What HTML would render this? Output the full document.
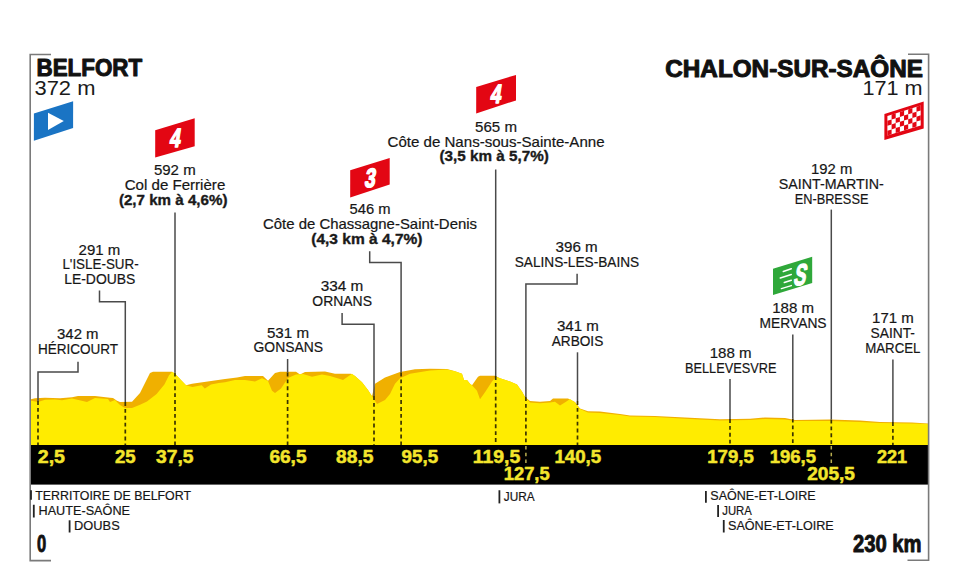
<!DOCTYPE html>
<html><head><meta charset="utf-8"><style>
html,body{margin:0;padding:0;background:#fff;}
svg{display:block;}
text{font-family:'Liberation Sans', sans-serif;}
</style></head><body>
<svg width="960" height="579" viewBox="0 0 960 579">
<rect width="960" height="579" fill="#fff"/>
<polygon points="31.0,399.3 35.0,398.2 45.0,397.7 60.0,398.2 72.0,397.2 78.0,396.1 95.0,396.1 110.0,397.7 113.0,398.0 117.0,400.8 120.0,401.9 132.0,401.7 140.0,393.0 150.0,372.9 153.0,371.8 172.0,371.8 175.0,373.7 186.0,385.3 192.0,383.8 225.0,379.0 237.0,377.5 245.0,376.0 263.0,376.0 268.0,380.7 275.0,372.9 280.0,371.8 296.0,371.8 300.0,374.4 305.0,372.0 325.0,371.5 335.0,373.7 351.0,373.7 355.0,376.0 362.0,382.2 368.0,390.0 372.0,396.2 375.0,383.8 385.0,377.5 400.0,372.1 415.0,369.3 430.0,368.7 447.0,369.0 455.0,371.3 462.0,373.7 464.0,379.9 467.0,380.0 470.0,383.8 472.0,385.3 478.0,376.8 480.0,375.7 495.0,375.7 500.0,378.3 510.0,381.4 517.0,384.5 522.0,391.5 525.0,397.0 530.0,400.9 540.0,401.7 550.0,400.9 553.0,398.5 568.0,398.5 575.0,401.9 580.0,408.4 588.0,411.3 600.0,411.6 620.0,414.0 630.0,415.4 655.0,416.0 690.0,417.8 720.0,419.2 750.0,418.8 765.0,417.5 785.0,418.1 795.0,419.9 830.0,419.5 860.0,420.5 880.0,421.9 912.0,422.5 928.0,423.5 928.0,445.0 31.0,445.0" fill="#f0b000"/><polygon points="31.0,400.8 38.0,401.9 45.0,399.8 55.0,399.5 62.0,400.3 72.0,398.5 87.0,401.9 95.0,398.0 108.0,399.0 110.0,401.9 115.0,400.0 120.0,405.0 125.0,408.0 132.0,408.0 140.0,404.7 147.0,401.6 156.6,393.9 164.4,384.5 169.0,375.2 172.2,371.8 175.0,373.7 186.0,385.3 192.4,386.9 201.7,385.3 204.8,388.4 211.0,384.5 218.8,383.0 225.0,382.2 235.0,380.0 245.0,379.9 255.0,381.4 262.0,378.3 268.0,381.0 272.0,390.8 275.0,393.0 281.0,388.4 288.0,378.0 296.0,374.4 303.0,374.0 312.0,376.8 322.0,374.4 330.0,376.0 340.0,379.0 343.0,380.0 352.0,373.7 355.0,376.0 362.0,382.2 368.0,390.0 372.0,396.2 377.0,404.0 385.0,400.0 390.0,393.9 395.0,383.8 400.0,378.3 410.0,373.7 430.0,370.5 447.0,369.5 455.0,371.3 462.0,373.7 464.0,379.9 467.0,380.0 470.0,383.8 472.0,385.3 477.0,390.8 480.0,399.3 485.0,392.3 492.0,381.4 496.0,376.8 500.0,378.3 510.0,381.4 517.0,384.5 522.0,391.5 525.0,397.0 530.0,402.5 540.0,403.2 550.0,402.5 555.0,401.7 560.0,405.5 566.0,401.7 570.0,399.0 575.0,402.5 580.0,409.0 588.0,412.5 600.0,413.0 620.0,415.0 630.0,416.5 655.0,417.0 690.0,419.0 720.0,420.5 750.0,420.0 765.0,419.0 785.0,419.5 795.0,421.0 830.0,421.0 860.0,422.0 880.0,423.0 912.0,423.5 928.0,424.0 928.0,445.0 31.0,445.0" fill="#ffec00"/><line x1="38" y1="401" x2="38" y2="445" stroke="#3b3300" stroke-width="1.7" stroke-dasharray="3.9 3"/><line x1="125.3" y1="402" x2="125.3" y2="445" stroke="#3b3300" stroke-width="1.7" stroke-dasharray="3.9 3"/><line x1="175" y1="372.5" x2="175" y2="445" stroke="#3b3300" stroke-width="1.7" stroke-dasharray="3.9 3"/><line x1="287.6" y1="372.5" x2="287.6" y2="445" stroke="#3b3300" stroke-width="1.7" stroke-dasharray="3.9 3"/><line x1="374" y1="396" x2="374" y2="445" stroke="#3b3300" stroke-width="1.7" stroke-dasharray="3.9 3"/><line x1="401.1" y1="372.5" x2="401.1" y2="445" stroke="#3b3300" stroke-width="1.7" stroke-dasharray="3.9 3"/><line x1="495.7" y1="376" x2="495.7" y2="445" stroke="#3b3300" stroke-width="1.7" stroke-dasharray="3.9 3"/><line x1="525.9" y1="397" x2="525.9" y2="445" stroke="#3b3300" stroke-width="1.7" stroke-dasharray="3.9 3"/><line x1="577.5" y1="401" x2="577.5" y2="445" stroke="#3b3300" stroke-width="1.7" stroke-dasharray="3.9 3"/><line x1="730" y1="419" x2="730" y2="445" stroke="#3b3300" stroke-width="1.7" stroke-dasharray="3.9 3"/><line x1="792.8" y1="418.5" x2="792.8" y2="445" stroke="#3b3300" stroke-width="1.7" stroke-dasharray="3.9 3"/><line x1="831.3" y1="419.5" x2="831.3" y2="445" stroke="#3b3300" stroke-width="1.7" stroke-dasharray="3.9 3"/><line x1="892.9" y1="422" x2="892.9" y2="445" stroke="#3b3300" stroke-width="1.7" stroke-dasharray="3.9 3"/><path d="M78,361.7 L78,372 L38,372 L38,401" fill="none" stroke="#4a4a4a" stroke-width="1.5"/><path d="M99.5,290.6 L99.5,301.8 L125.3,301.8 L125.3,402" fill="none" stroke="#4a4a4a" stroke-width="1.5"/><path d="M175,212.4 L175,372.5" fill="none" stroke="#4a4a4a" stroke-width="1.5"/><path d="M287.6,359 L287.6,372.5" fill="none" stroke="#4a4a4a" stroke-width="1.5"/><path d="M342.1,312.9 L342.1,324.2 L374,324.2 L374,396" fill="none" stroke="#4a4a4a" stroke-width="1.5"/><path d="M369.7,251.2 L369.7,262.4 L401.1,262.4 L401.1,372.5" fill="none" stroke="#4a4a4a" stroke-width="1.5"/><path d="M495.7,169.5 L495.7,376" fill="none" stroke="#4a4a4a" stroke-width="1.5"/><path d="M577.1,273.8 L577.1,283.9 L525.9,283.9 L525.9,397" fill="none" stroke="#4a4a4a" stroke-width="1.5"/><path d="M577.5,352.3 L577.5,401" fill="none" stroke="#4a4a4a" stroke-width="1.5"/><path d="M730,379 L730,419" fill="none" stroke="#4a4a4a" stroke-width="1.5"/><path d="M792.8,334.6 L792.8,418.5" fill="none" stroke="#4a4a4a" stroke-width="1.5"/><path d="M831.3,209.6 L831.3,419.5" fill="none" stroke="#4a4a4a" stroke-width="1.5"/><path d="M892.9,359.4 L892.9,422" fill="none" stroke="#4a4a4a" stroke-width="1.5"/><rect x="30.8" y="445" width="897.6" height="39.6" fill="#000"/><line x1="525.9" y1="446" x2="525.9" y2="464" stroke="#b8ad50" stroke-width="1.5" stroke-dasharray="3.5 3.2"/><line x1="831.3" y1="446" x2="831.3" y2="464" stroke="#b8ad50" stroke-width="1.5" stroke-dasharray="3.5 3.2"/><path d="M51,54.5 L30.2,54.5 L30.2,560.6 L51,560.6" fill="none" stroke="#7a7a7a" stroke-width="1.6"/><path d="M908,54.3 L928.6,54.3 L928.6,560.3 L907.5,560.3" fill="none" stroke="#7a7a7a" stroke-width="1.6"/><line x1="31" y1="490.3" x2="31" y2="499.7" stroke="#222" stroke-width="1.8"/><line x1="33.8" y1="504.75" x2="33.8" y2="517.5" stroke="#222" stroke-width="1.8"/><line x1="69.6" y1="520.3" x2="69.6" y2="532.5" stroke="#222" stroke-width="1.8"/><line x1="499.4" y1="490.25" x2="499.4" y2="503.4" stroke="#222" stroke-width="1.8"/><line x1="705.9" y1="491" x2="705.9" y2="502.8" stroke="#222" stroke-width="1.8"/><line x1="718.1" y1="505" x2="718.1" y2="517" stroke="#222" stroke-width="1.8"/><line x1="723.75" y1="520" x2="723.75" y2="532.5" stroke="#222" stroke-width="1.8"/><polygon points="33.9,113.5 73.1,101.3 73.1,128.1 33.9,140.7" fill="#1a74c4"/><polygon points="48,112.7 63.8,120.9 48,130" fill="#fff"/><polygon points="155.2,130.3 194.7,118.2 194.7,146.3 155.2,157.5" fill="#e30613"/><polygon points="350.2,170.3 389.7,157.9 389.7,184.5 350.2,197.5" fill="#e30613"/><polygon points="476.2,87.0 516.0,74.9 516.0,100.4 476.2,113.4" fill="#e30613"/><polygon points="773.0,268.7 812.2,256.7 812.2,283.0 773.0,295.1" fill="#2fa83a"/><text transform="translate(174.3,146.8) skewX(-9) scale(0.72,1)" x="0" y="0" font-size="26.5" font-weight="bold" text-anchor="middle" fill="#fff" stroke="#fff" stroke-width="1.5" stroke-linejoin="round">4</text><text transform="translate(369.3,186.8) skewX(-9) scale(0.72,1)" x="0" y="0" font-size="26.5" font-weight="bold" text-anchor="middle" fill="#fff" stroke="#fff" stroke-width="1.5" stroke-linejoin="round">3</text><text transform="translate(495.0,102.8) skewX(-9) scale(0.72,1)" x="0" y="0" font-size="26.5" font-weight="bold" text-anchor="middle" fill="#fff" stroke="#fff" stroke-width="1.5" stroke-linejoin="round">4</text><text transform="translate(798.8,285.0) skewX(-12) scale(0.6,1)" x="0" y="0" font-size="30" font-weight="bold" text-anchor="middle" fill="#fff" stroke="#fff" stroke-width="1.4" stroke-linejoin="round">S</text><line x1="783.3" y1="271.5" x2="791.3" y2="268.8" stroke="#fff" stroke-width="1.5" stroke-linecap="round"/><line x1="780.3" y1="278" x2="791.3" y2="274.5" stroke="#fff" stroke-width="1.5" stroke-linecap="round"/><line x1="784.3" y1="282.5" x2="791.3" y2="280.2" stroke="#fff" stroke-width="1.5" stroke-linecap="round"/><line x1="781.4" y1="288.6" x2="791.3" y2="285.6" stroke="#fff" stroke-width="1.5" stroke-linecap="round"/><polygon points="884.4,113.9 923.7,101.6 923.7,128.6 884.4,140.1" fill="#e30613"/><polygon points="887.4,115.9 920.7,105.5 920.7,125.5 887.4,135.6" fill="#fff"/><polygon points="887.4,120.8 891.6,119.5 891.6,124.4 887.4,125.8" fill="#e30613"/><polygon points="887.4,130.7 891.6,129.4 891.6,134.3 887.4,135.6" fill="#e30613"/><polygon points="891.6,114.6 895.7,113.3 895.7,118.2 891.6,119.5" fill="#e30613"/><polygon points="891.6,124.4 895.7,123.1 895.7,128.1 891.6,129.4" fill="#e30613"/><polygon points="895.7,118.2 899.9,116.9 899.9,121.8 895.7,123.1" fill="#e30613"/><polygon points="895.7,128.1 899.9,126.8 899.9,131.7 895.7,133.0" fill="#e30613"/><polygon points="899.9,112.0 904.1,110.7 904.1,115.6 899.9,116.9" fill="#e30613"/><polygon points="899.9,121.8 904.1,120.5 904.1,125.5 899.9,126.8" fill="#e30613"/><polygon points="904.0,115.6 908.2,114.3 908.2,119.3 904.0,120.6" fill="#e30613"/><polygon points="904.0,125.5 908.2,124.2 908.2,129.1 904.0,130.4" fill="#e30613"/><polygon points="908.2,109.4 912.4,108.1 912.4,113.0 908.2,114.3" fill="#e30613"/><polygon points="908.2,119.3 912.4,118.0 912.4,122.9 908.2,124.2" fill="#e30613"/><polygon points="912.4,113.0 916.5,111.7 916.5,116.7 912.4,118.0" fill="#e30613"/><polygon points="912.4,122.9 916.5,121.6 916.5,126.5 912.4,127.8" fill="#e30613"/><polygon points="916.5,106.8 920.7,105.5 920.7,110.4 916.5,111.7" fill="#e30613"/><polygon points="916.5,116.7 920.7,115.3 920.7,120.3 916.5,121.6" fill="#e30613"/><text id="t_belfort" x="36.50" y="76.20" font-size="23.3" font-weight="bold" fill="#111" textLength="105.64" lengthAdjust="spacingAndGlyphs" stroke="#111" stroke-width="1.0" stroke-linejoin="round">BELFORT</text><text id="t_372" x="34.50" y="95.40" font-size="20.8" font-weight="normal" fill="#1a1a1a" textLength="60.89" lengthAdjust="spacingAndGlyphs">372 m</text><text id="t_chalon" x="665.30" y="76.80" font-size="23.6" font-weight="bold" fill="#111" textLength="257.63" lengthAdjust="spacingAndGlyphs" stroke="#111" stroke-width="1.0" stroke-linejoin="round">CHALON-SUR-SAÔNE</text><text id="t_171f" x="862.40" y="94.50" font-size="20.0" font-weight="normal" fill="#1a1a1a" textLength="60.19" lengthAdjust="spacingAndGlyphs">171 m</text><text id="l1a" x="57.00" y="339.30" font-size="14.6" font-weight="normal" fill="#161616" textLength="41.59" lengthAdjust="spacingAndGlyphs" stroke="#161616" stroke-width="0.2" stroke-linejoin="round">342 m</text><text id="l1b" x="37.90" y="353.90" font-size="14.6" font-weight="normal" fill="#161616" textLength="80.22" lengthAdjust="spacingAndGlyphs" stroke="#161616" stroke-width="0.2" stroke-linejoin="round">HÉRICOURT</text><text id="l2a" x="78.60" y="254.70" font-size="14.6" font-weight="normal" fill="#161616" textLength="41.69" lengthAdjust="spacingAndGlyphs" stroke="#161616" stroke-width="0.2" stroke-linejoin="round">291 m</text><text id="l2b" x="62.40" y="269.30" font-size="14.6" font-weight="normal" fill="#161616" textLength="76.27" lengthAdjust="spacingAndGlyphs" stroke="#161616" stroke-width="0.2" stroke-linejoin="round">L'ISLE-SUR-</text><text id="l2c" x="64.20" y="284.30" font-size="14.6" font-weight="normal" fill="#161616" textLength="71.17" lengthAdjust="spacingAndGlyphs" stroke="#161616" stroke-width="0.2" stroke-linejoin="round">LE-DOUBS</text><text id="l3a" x="153.90" y="174.70" font-size="14.6" font-weight="normal" fill="#161616" textLength="41.79" lengthAdjust="spacingAndGlyphs" stroke="#161616" stroke-width="0.2" stroke-linejoin="round">592 m</text><text id="l3b" x="124.70" y="189.60" font-size="14.6" font-weight="normal" fill="#161616" textLength="100.59" lengthAdjust="spacingAndGlyphs" stroke="#161616" stroke-width="0.2" stroke-linejoin="round">Col de Ferrière</text><text id="l3c" x="118.90" y="204.60" font-size="14.6" font-weight="bold" fill="#1a1a1a" textLength="108.61" lengthAdjust="spacingAndGlyphs" stroke="#1a1a1a" stroke-width="0.35" stroke-linejoin="round">(2,7 km à 4,6%)</text><text id="l4a" x="266.90" y="337.60" font-size="14.6" font-weight="normal" fill="#161616" textLength="42.19" lengthAdjust="spacingAndGlyphs" stroke="#161616" stroke-width="0.2" stroke-linejoin="round">531 m</text><text id="l4b" x="253.50" y="352.20" font-size="14.6" font-weight="normal" fill="#161616" textLength="69.52" lengthAdjust="spacingAndGlyphs" stroke="#161616" stroke-width="0.2" stroke-linejoin="round">GONSANS</text><text id="l5a" x="320.80" y="291.20" font-size="14.6" font-weight="normal" fill="#161616" textLength="42.59" lengthAdjust="spacingAndGlyphs" stroke="#161616" stroke-width="0.2" stroke-linejoin="round">334 m</text><text id="l5b" x="312.30" y="306.20" font-size="14.6" font-weight="normal" fill="#161616" textLength="59.68" lengthAdjust="spacingAndGlyphs" stroke="#161616" stroke-width="0.2" stroke-linejoin="round">ORNANS</text><text id="l6a" x="349.50" y="213.75" font-size="14.6" font-weight="normal" fill="#161616" textLength="40.99" lengthAdjust="spacingAndGlyphs" stroke="#161616" stroke-width="0.2" stroke-linejoin="round">546 m</text><text id="l6b" x="263.00" y="228.75" font-size="14.6" font-weight="normal" fill="#161616" textLength="214.03" lengthAdjust="spacingAndGlyphs" stroke="#161616" stroke-width="0.2" stroke-linejoin="round">Côte de Chassagne-Saint-Denis</text><text id="l6c" x="311.25" y="243.60" font-size="14.6" font-weight="bold" fill="#1a1a1a" textLength="111.26" lengthAdjust="spacingAndGlyphs" stroke="#1a1a1a" stroke-width="0.35" stroke-linejoin="round">(4,3 km à 4,7%)</text><text id="l7a" x="475.00" y="132.00" font-size="14.6" font-weight="normal" fill="#161616" textLength="41.99" lengthAdjust="spacingAndGlyphs" stroke="#161616" stroke-width="0.2" stroke-linejoin="round">565 m</text><text id="l7b" x="387.50" y="147.00" font-size="14.6" font-weight="normal" fill="#161616" textLength="217.04" lengthAdjust="spacingAndGlyphs" stroke="#161616" stroke-width="0.2" stroke-linejoin="round">Côte de Nans-sous-Sainte-Anne</text><text id="l7c" x="439.50" y="161.20" font-size="14.6" font-weight="bold" fill="#1a1a1a" textLength="109.26" lengthAdjust="spacingAndGlyphs" stroke="#1a1a1a" stroke-width="0.35" stroke-linejoin="round">(3,5 km à 5,7%)</text><text id="l8a" x="555.50" y="252.00" font-size="14.6" font-weight="normal" fill="#161616" textLength="42.19" lengthAdjust="spacingAndGlyphs" stroke="#161616" stroke-width="0.2" stroke-linejoin="round">396 m</text><text id="l8b" x="514.70" y="267.00" font-size="14.6" font-weight="normal" fill="#161616" textLength="124.50" lengthAdjust="spacingAndGlyphs" stroke="#161616" stroke-width="0.2" stroke-linejoin="round">SALINS-LES-BAINS</text><text id="l9a" x="556.90" y="331.40" font-size="14.6" font-weight="normal" fill="#161616" textLength="41.89" lengthAdjust="spacingAndGlyphs" stroke="#161616" stroke-width="0.2" stroke-linejoin="round">341 m</text><text id="l9b" x="551.70" y="346.00" font-size="14.6" font-weight="normal" fill="#161616" textLength="51.59" lengthAdjust="spacingAndGlyphs" stroke="#161616" stroke-width="0.2" stroke-linejoin="round">ARBOIS</text><text id="l10a" x="709.75" y="358.40" font-size="14.6" font-weight="normal" fill="#161616" textLength="41.84" lengthAdjust="spacingAndGlyphs" stroke="#161616" stroke-width="0.2" stroke-linejoin="round">188 m</text><text id="l10b" x="685.00" y="372.90" font-size="14.6" font-weight="normal" fill="#161616" textLength="91.51" lengthAdjust="spacingAndGlyphs" stroke="#161616" stroke-width="0.2" stroke-linejoin="round">BELLEVESVRE</text><text id="l11a" x="772.20" y="312.90" font-size="14.6" font-weight="normal" fill="#161616" textLength="41.79" lengthAdjust="spacingAndGlyphs" stroke="#161616" stroke-width="0.2" stroke-linejoin="round">188 m</text><text id="l11b" x="759.60" y="327.50" font-size="14.6" font-weight="normal" fill="#161616" textLength="66.98" lengthAdjust="spacingAndGlyphs" stroke="#161616" stroke-width="0.2" stroke-linejoin="round">MERVANS</text><text id="l12a" x="811.00" y="174.00" font-size="14.6" font-weight="normal" fill="#161616" textLength="41.24" lengthAdjust="spacingAndGlyphs" stroke="#161616" stroke-width="0.2" stroke-linejoin="round">192 m</text><text id="l12b" x="778.75" y="189.00" font-size="14.6" font-weight="normal" fill="#161616" textLength="105.01" lengthAdjust="spacingAndGlyphs" stroke="#161616" stroke-width="0.2" stroke-linejoin="round">SAINT-MARTIN-</text><text id="l12c" x="794.70" y="203.80" font-size="14.6" font-weight="normal" fill="#161616" textLength="73.70" lengthAdjust="spacingAndGlyphs" stroke="#161616" stroke-width="0.2" stroke-linejoin="round">EN-BRESSE</text><text id="l13a" x="872.10" y="323.20" font-size="14.6" font-weight="normal" fill="#161616" textLength="41.79" lengthAdjust="spacingAndGlyphs" stroke="#161616" stroke-width="0.2" stroke-linejoin="round">171 m</text><text id="l13b" x="870.50" y="338.40" font-size="14.6" font-weight="normal" fill="#161616" textLength="44.47" lengthAdjust="spacingAndGlyphs" stroke="#161616" stroke-width="0.2" stroke-linejoin="round">SAINT-</text><text id="l13c" x="865.20" y="353.20" font-size="14.6" font-weight="normal" fill="#161616" textLength="55.27" lengthAdjust="spacingAndGlyphs" stroke="#161616" stroke-width="0.2" stroke-linejoin="round">MARCEL</text><text id="n1" x="37.80" y="462.50" font-size="18.6" font-weight="bold" fill="#f3e52c" textLength="27.20" lengthAdjust="spacingAndGlyphs" stroke="#f3e52c" stroke-width="0.5" stroke-linejoin="round">2,5</text><text id="n2" x="115.00" y="462.50" font-size="18.6" font-weight="bold" fill="#f3e52c" textLength="20.64" lengthAdjust="spacingAndGlyphs" stroke="#f3e52c" stroke-width="0.5" stroke-linejoin="round">25</text><text id="n3" x="156.00" y="462.50" font-size="18.6" font-weight="bold" fill="#f3e52c" textLength="37.43" lengthAdjust="spacingAndGlyphs" stroke="#f3e52c" stroke-width="0.5" stroke-linejoin="round">37,5</text><text id="n4" x="269.40" y="462.50" font-size="18.6" font-weight="bold" fill="#f3e52c" textLength="37.13" lengthAdjust="spacingAndGlyphs" stroke="#f3e52c" stroke-width="0.5" stroke-linejoin="round">66,5</text><text id="n5" x="336.00" y="462.50" font-size="18.6" font-weight="bold" fill="#f3e52c" textLength="37.43" lengthAdjust="spacingAndGlyphs" stroke="#f3e52c" stroke-width="0.5" stroke-linejoin="round">88,5</text><text id="n6" x="401.60" y="462.50" font-size="18.6" font-weight="bold" fill="#f3e52c" textLength="36.52" lengthAdjust="spacingAndGlyphs" stroke="#f3e52c" stroke-width="0.5" stroke-linejoin="round">95,5</text><text id="n7" x="472.80" y="462.50" font-size="18.6" font-weight="bold" fill="#f3e52c" textLength="47.50" lengthAdjust="spacingAndGlyphs" stroke="#f3e52c" stroke-width="0.5" stroke-linejoin="round">119,5</text><text id="n8" x="503.75" y="480.30" font-size="18.6" font-weight="bold" fill="#f3e52c" textLength="45.90" lengthAdjust="spacingAndGlyphs" stroke="#f3e52c" stroke-width="0.5" stroke-linejoin="round">127,5</text><text id="n9" x="554.40" y="462.50" font-size="18.6" font-weight="bold" fill="#f3e52c" textLength="46.80" lengthAdjust="spacingAndGlyphs" stroke="#f3e52c" stroke-width="0.5" stroke-linejoin="round">140,5</text><text id="n10" x="707.25" y="462.50" font-size="18.6" font-weight="bold" fill="#f3e52c" textLength="46.45" lengthAdjust="spacingAndGlyphs" stroke="#f3e52c" stroke-width="0.5" stroke-linejoin="round">179,5</text><text id="n11" x="769.70" y="462.50" font-size="18.6" font-weight="bold" fill="#f3e52c" textLength="46.25" lengthAdjust="spacingAndGlyphs" stroke="#f3e52c" stroke-width="0.5" stroke-linejoin="round">196,5</text><text id="n12" x="807.20" y="480.30" font-size="18.6" font-weight="bold" fill="#f3e52c" textLength="47.75" lengthAdjust="spacingAndGlyphs" stroke="#f3e52c" stroke-width="0.5" stroke-linejoin="round">205,5</text><text id="n13" x="877.00" y="462.50" font-size="18.6" font-weight="bold" fill="#f3e52c" textLength="30.17" lengthAdjust="spacingAndGlyphs" stroke="#f3e52c" stroke-width="0.5" stroke-linejoin="round">221</text><text id="d1" x="35.30" y="500.25" font-size="13.0" font-weight="normal" fill="#161616" textLength="155.72" lengthAdjust="spacingAndGlyphs" stroke="#161616" stroke-width="0.2" stroke-linejoin="round">TERRITOIRE DE BELFORT</text><text id="d2" x="38.50" y="514.70" font-size="13.0" font-weight="normal" fill="#161616" textLength="91.48" lengthAdjust="spacingAndGlyphs" stroke="#161616" stroke-width="0.2" stroke-linejoin="round">HAUTE-SAÔNE</text><text id="d3" x="74.10" y="529.70" font-size="13.0" font-weight="normal" fill="#161616" textLength="45.62" lengthAdjust="spacingAndGlyphs" stroke="#161616" stroke-width="0.2" stroke-linejoin="round">DOUBS</text><text id="d4" x="503.75" y="501.00" font-size="13.0" font-weight="normal" fill="#161616" textLength="30.91" lengthAdjust="spacingAndGlyphs" stroke="#161616" stroke-width="0.2" stroke-linejoin="round">JURA</text><text id="d5" x="710.25" y="500.40" font-size="13.0" font-weight="normal" fill="#161616" textLength="105.36" lengthAdjust="spacingAndGlyphs" stroke="#161616" stroke-width="0.2" stroke-linejoin="round">SAÔNE-ET-LOIRE</text><text id="d6" x="722.25" y="515.00" font-size="13.0" font-weight="normal" fill="#161616" textLength="29.61" lengthAdjust="spacingAndGlyphs" stroke="#161616" stroke-width="0.2" stroke-linejoin="round">JURA</text><text id="d7" x="728.00" y="530.00" font-size="13.0" font-weight="normal" fill="#161616" textLength="105.76" lengthAdjust="spacingAndGlyphs" stroke="#161616" stroke-width="0.2" stroke-linejoin="round">SAÔNE-ET-LOIRE</text><text id="k0" x="37.00" y="552.00" font-size="23.6" font-weight="bold" fill="#111" textLength="9.22" lengthAdjust="spacingAndGlyphs" stroke="#111" stroke-width="0.9" stroke-linejoin="round">0</text><text id="k230" x="852.90" y="552.00" font-size="23.6" font-weight="bold" fill="#111" textLength="68.73" lengthAdjust="spacingAndGlyphs" stroke="#111" stroke-width="0.9" stroke-linejoin="round">230 km</text>
</svg></body></html>
